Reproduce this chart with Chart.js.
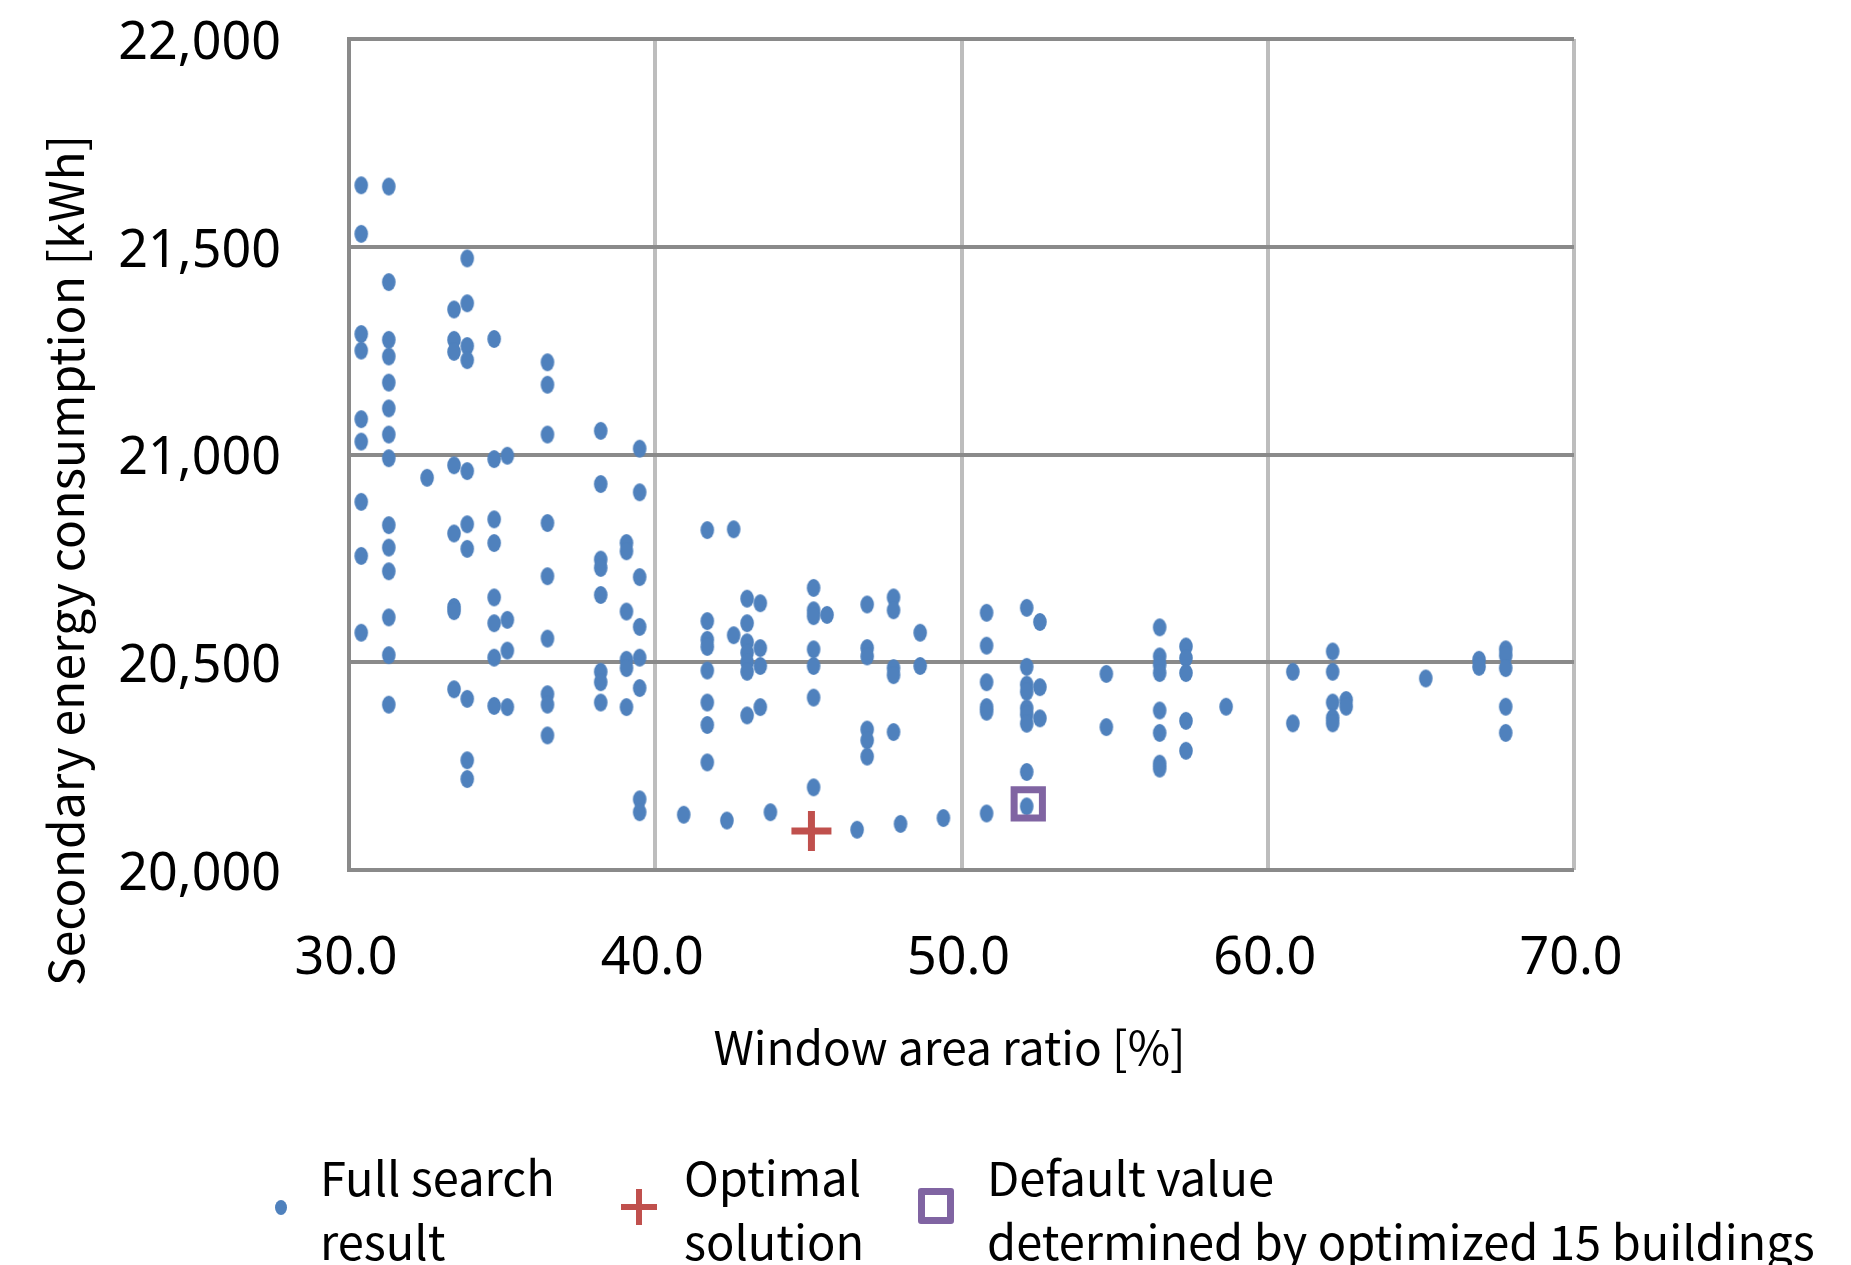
<!DOCTYPE html>
<html>
<head>
<meta charset="utf-8">
<script src="https://cdn.jsdelivr.net/npm/chart.js@4.4.1/dist/chart.umd.min.js"></script>
<style>
  html, body { margin: 0; padding: 0; background: #fff; }
  #wrap { position: relative; width: 1851px; height: 1265px; overflow: hidden; }
  #legend { position: absolute; left: 0; top: 0; width: 1851px; height: 1265px; pointer-events: none;
            font-family: "Noto Sans CJK JP", "Noto Sans", sans-serif; font-size: 47px; color: #000; }
  .lt { position: absolute; line-height: 64px; white-space: nowrap; }
  .dot { position: absolute; width: 12px; height: 15px; border-radius: 50%; background: #4f81bd; }
  .plus-h { position: absolute; width: 36px; height: 6px; background: #c0504d; }
  .plus-v { position: absolute; width: 6px; height: 36px; background: #c0504d; }
  .sq { position: absolute; width: 22px; height: 22px; border: 7px solid #8064a2; border-radius: 3px; }
</style>
</head>
<body>
<div id="wrap">
  <canvas id="c"></canvas>
  <div id="legend">
    <div class="dot" style="left:275px; top:1200px;"></div>
    <div class="lt" style="left:320px; top:1144px;">Full search<br>result</div>
    <div class="plus-h" style="left:621px; top:1204px;"></div>
    <div class="plus-v" style="left:636px; top:1189px;"></div>
    <div class="lt" style="left:684px; top:1144px;">Optimal<br>solution</div>
    <div class="sq" style="left:918px; top:1188px;"></div>
    <div class="lt" style="left:987px; top:1144px;">Default value<br>determined by optimized 15 buildings</div>
  </div>
</div>
<script>
// ---- Data ----
const windowRatio = [30.4, 31.3, 32.55, 33.43, 33.86, 34.74, 35.17, 36.48, 38.22, 39.06, 39.49,
  40.93, 41.7, 42.34, 42.56, 43.0, 43.43, 43.76, 45.17, 45.61, 46.59, 46.92, 47.78, 48.01, 48.65, 49.41,
  50.82, 52.13, 52.56, 54.73, 56.47, 57.33, 58.64, 60.82, 62.12, 62.56, 65.16, 66.9, 67.77];
const energyAtRatio = [
  [21648, 21531, 21290, 21250, 21085, 21031, 20886, 20756, 20571],
  [21645, 21415, 21276, 21236, 21173, 21111, 21048, 20991, 20830, 20776, 20719, 20608, 20517, 20398],
  [20944],
  [21349, 21276, 21247, 20974, 20810, 20633, 20623, 20435],
  [21472, 21364, 21261, 21227, 20960, 20832, 20773, 20412, 20264, 20219],
  [21278, 20989, 20844, 20787, 20656, 20594, 20511, 20395],
  [20997, 20602, 20528, 20392],
  [21222, 21168, 21048, 20835, 20707, 20557, 20423, 20398, 20324],
  [21057, 20929, 20747, 20727, 20662, 20477, 20452, 20403],
  [20787, 20767, 20622, 20506, 20486, 20392],
  [21014, 20909, 20705, 20585, 20511, 20438, 20170, 20139],
  [20133],
  [20818, 20599, 20554, 20537, 20480, 20403, 20349, 20259],
  [20119],
  [20820, 20565],
  [20653, 20594, 20548, 20523, 20500, 20477, 20372],
  [20642, 20534, 20491, 20392],
  [20139],
  [20679, 20625, 20611, 20531, 20491, 20415, 20199],
  [20614],
  [20097],
  [20639, 20534, 20514, 20338, 20312, 20273],
  [20656, 20625, 20486, 20469, 20332],
  [20111],
  [20571, 20491],
  [20125],
  [20619, 20540, 20452, 20392, 20381, 20136],
  [20631, 20489, 20446, 20429, 20389, 20374, 20352, 20236, 20153],
  [20597, 20440, 20365],
  [20472, 20344],
  [20584, 20514, 20494, 20474, 20384, 20330, 20256, 20244],
  [20538, 20510, 20474, 20359, 20287],
  [20393],
  [20477, 20353],
  [20526, 20477, 20403, 20366, 20353],
  [20409, 20393],
  [20461],
  [20506, 20489],
  [20531, 20516, 20486, 20393, 20330]
];
const optimalRatio = [45.1];
const optimalEnergy = [20094];
const defaultRatio = [52.18];
const defaultEnergy = [20159];
const xTicks = [30, 40, 50, 60, 70];
const yTicks = [20000, 20500, 21000, 21500, 22000];
const xTitle = 'Window area ratio [%]';
const yTitle = 'Secondary energy consumption [kWh]';

// ---- Build datasets ----
const fullSearch = [];
windowRatio.forEach((x, i) => energyAtRatio[i].forEach(y => fullSearch.push({x: x, y: y})));
const optimal = optimalRatio.map((x, i) => ({x: x, y: optimalEnergy[i]}));
const defaults = defaultRatio.map((x, i) => ({x: x, y: defaultEnergy[i]}));

// ellipse marker (Excel-like, slightly taller than wide)
const dotImg = document.createElement('canvas');
dotImg.width = 16; dotImg.height = 20;
(function () {
  const g = dotImg.getContext('2d');
  g.fillStyle = '#4f81bd';
  g.beginPath();
  g.ellipse(8, 10, 6.8, 9.0, 0, 0, Math.PI * 2);
  g.fill();
})();

const DARK = '#8a8a8a';
const LIGHT = '#bdbdbd';
const W = 1851, H = 1265;
const cv = document.getElementById('c');
cv.style.width = W + 'px'; cv.style.height = H + 'px';

// axis titles placed as in the reference (y title sits lower than the plot centre)
const axisTitles = {
  id: 'axisTitles',
  afterDraw(chart) {
    const ctx = chart.ctx;
    const area = chart.chartArea;
    ctx.save();
    ctx.fillStyle = '#000';
    ctx.textBaseline = 'middle';
    ctx.textAlign = 'center';
    ctx.font = '46px "Noto Sans CJK JP", sans-serif';
    ctx.fillText(xTitle, (area.left + area.right) / 2 - 12, 1048);
    ctx.translate(66, (area.top + area.bottom) / 2 + 106);
    ctx.rotate(-Math.PI / 2);
    ctx.font = '48px "Noto Sans CJK JP", sans-serif';
    ctx.fillText(yTitle, 0, 0);
    ctx.restore();
  }
};

new Chart(cv, {
  type: 'scatter',
  data: {
    datasets: [
      { label: 'Full search result', data: fullSearch, pointStyle: dotImg, pointRadius: 9,
        backgroundColor: '#4f81bd', borderColor: '#4f81bd', order: 3 },
      { label: 'Optimal solution', data: optimal, pointStyle: 'cross', pointRadius: 20, borderWidth: 7,
        borderColor: '#c0504d', backgroundColor: '#c0504d', order: 1 },
      { label: 'Default value determined by optimized 15 buildings', data: defaults, pointStyle: 'rect',
        pointRadius: 20, borderWidth: 7, borderColor: '#8064a2', backgroundColor: 'rgba(0,0,0,0)', order: 2 }
    ]
  },
  options: {
    responsive: false,
    animation: false,
    devicePixelRatio: 1,
    layout: { padding: { top: 39, right: W - 1574, bottom: 190, left: 0 } },
    plugins: { legend: { display: false }, tooltip: { enabled: false } },
    scales: {
      x: {
        type: 'linear', min: 30, max: 70,
        afterBuildTicks: s => { s.ticks = xTicks.map(v => ({value: v})); },
        afterFit: s => { s.height = 205; },
        ticks: { callback: v => Number(v).toFixed(1), color: '#000', padding: 0, labelOffset: -3,
                 font: { family: '"Noto Sans", sans-serif', size: 52 }, maxRotation: 0 },
        grid: { color: c => (c.tick && c.tick.value === 30 ? DARK : LIGHT), lineWidth: 4,
                drawTicks: true, tickLength: 58, tickColor: 'rgba(0,0,0,0)' },
        border: { display: false },
        title: { display: false, text: xTitle }
      },
      y: {
        type: 'linear', min: 20000, max: 22000,
        afterBuildTicks: s => { s.ticks = yTicks.map(v => ({value: v})); },
        afterFit: s => { s.width = 349; },
        ticks: { callback: v => Number(v).toLocaleString('en-US'), color: '#000', padding: 0, labelOffset: 5,
                 font: { family: '"Noto Sans", sans-serif', size: 52 } },
        grid: { color: DARK, lineWidth: 4, drawTicks: true, tickLength: 68, tickColor: 'rgba(0,0,0,0)' },
        border: { display: true, color: DARK, width: 4 },
        title: { display: false, text: yTitle }
      }
    }
  },
  plugins: [axisTitles]
});
</script>
</body>
</html>
